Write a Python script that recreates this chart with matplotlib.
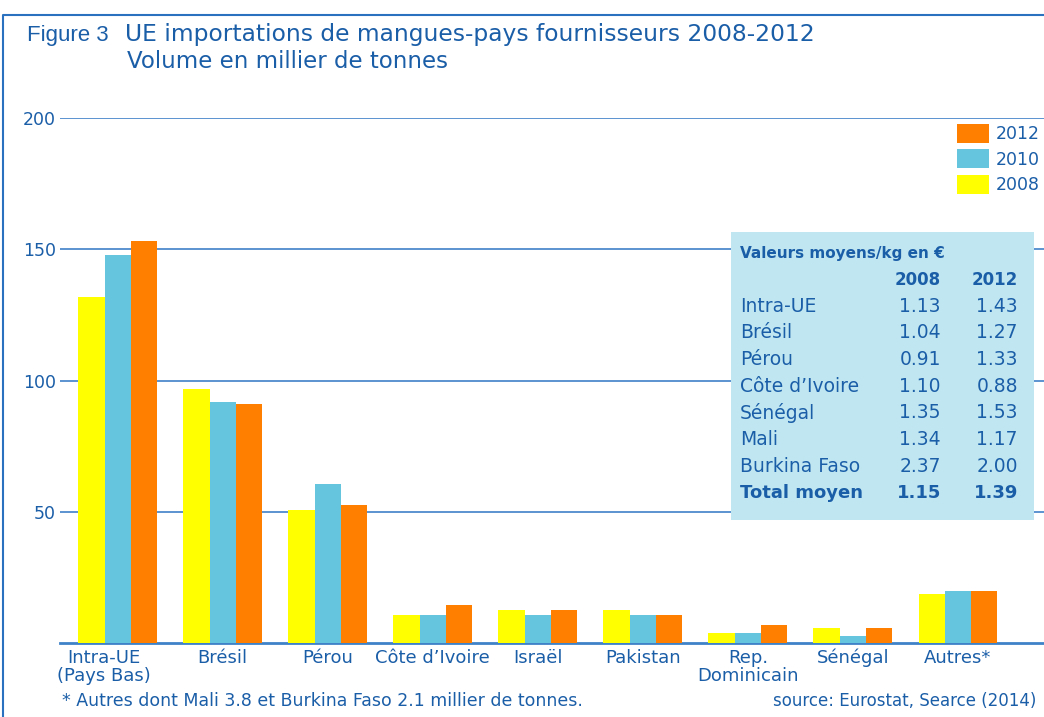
import matplotlib.pyplot as plt
import matplotlib.transforms as mtransforms
import numpy as np
from matplotlib.patches import Rectangle
from matplotlib.lines import Line2D

# data
pays = ['Intra-UE\n(Pays Bas)', 'Brésil', 'Pérou', 'Côte d\u2019Ivoire', 'Israël',
        'Pakistan', 'Rep.\nDominicain', 'Sénégal', 'Autres*']
vol_2008 = [132, 96.8, 50.6, 10.7, 12.7, 12.7, 3.8, 5.6, 18.8]
vol_2010 = [148, 91.8, 60.7, 10.7, 10.7, 10.7, 3.8, 2.8, 19.8]
vol_2012 = [153, 90.9, 52.6, 14.6, 12.7, 10.7, 6.7, 5.6, 19.8]

# table of mean values per kg
tab_pays = ['Intra-UE', 'Brésil', 'Pérou', 'Côte d\u2019Ivoire', 'Sénégal', 'Mali', 'Burkina Faso']
tab_2008 = ['1.13', '1.04', '0.91', '1.10', '1.35', '1.34', '2.37']
tab_2012 = ['1.43', '1.27', '1.33', '0.88', '1.53', '1.17', '2.00']
total_2008 = '1.15'
total_2012 = '1.39'

W, H = 1044, 717
blue = '#1b5ea8'
grid_blue = '#3f82c8'
c2008 = '#ffff00'
c2010 = '#66c5de'
c2012 = '#ff7f00'

fig = plt.figure(figsize=(W / 100, H / 100), dpi=100)
plt.rcParams['font.family'] = 'DejaVu Sans'


def fx(px):
    return px / W


def fy(py):
    return 1 - py / H


ax = fig.add_axes([fx(60), fy(643), 1 - fx(60), fy(118) - fy(643)])

x = np.arange(len(pays))
w = 0.25
ax.bar(x - w, vol_2008, w, color=c2008, label='2008', zorder=3)
ax.bar(x, vol_2010, w, color=c2010, label='2010', zorder=3)
ax.bar(x + w, vol_2012, w, color=c2012, label='2012', zorder=3)

ax.set_xlim(-0.55, 8.82)
ax.set_ylim(0, 200)
ax.set_yticks([50, 100, 150, 200])
ax.yaxis.grid(True, color=grid_blue, linewidth=1.2, zorder=0)
ax.set_xticks(x)
ax.set_xticklabels(pays, multialignment='center', linespacing=1.05)
ax.tick_params(axis='both', length=0, colors=blue, labelsize=12.5)
ax.tick_params(axis='x', pad=4, labelsize=13)
ax.tick_params(axis='y', pad=3)
for s in ['top', 'right', 'left']:
    ax.spines[s].set_visible(False)
ax.spines['bottom'].set_color(grid_blue)
ax.spines['bottom'].set_linewidth(2)

# first label sits a bit left of its group in the original
lab0 = ax.get_xticklabels()[0]
lab0.set_transform(lab0.get_transform() +
                   mtransforms.ScaledTranslation(-0.14, 0, fig.dpi_scale_trans))

# legend, 2012 on top
h, l = ax.get_legend_handles_labels()
ax.legend(h[::-1], l[::-1], loc='upper left', bbox_to_anchor=(fx(957), fy(124)),
          bbox_transform=fig.transFigure, frameon=False, fontsize=12.5,
          handlelength=1.85, handleheight=1.3, labelspacing=0.35, handletextpad=0.4,
          labelcolor=blue, borderaxespad=0, borderpad=0)

# table box
fig.add_artist(Rectangle((fx(731), fy(520)), fx(1034) - fx(731), fy(232) - fy(520),
                         transform=fig.transFigure, facecolor='#c0e7f1', edgecolor='none', zorder=5))
fig.text(fx(740), fy(254), 'Valeurs moyens/kg en \u20ac', color=blue, fontsize=11,
         fontweight='bold', va='center', zorder=6)
fig.text(fx(941), fy(280), '2008', color=blue, fontsize=12, fontweight='bold',
         ha='right', va='center', zorder=6)
fig.text(fx(1018), fy(280), '2012', color=blue, fontsize=12, fontweight='bold',
         ha='right', va='center', zorder=6)
for i, (p, a, b) in enumerate(zip(tab_pays, tab_2008, tab_2012)):
    yy = 306 + i * 26.7
    fig.text(fx(740), fy(yy), p, color=blue, fontsize=13.5, va='center', zorder=6)
    fig.text(fx(941), fy(yy), a, color=blue, fontsize=13.5, ha='right', va='center', zorder=6)
    fig.text(fx(1018), fy(yy), b, color=blue, fontsize=13.5, ha='right', va='center', zorder=6)
fig.text(fx(740), fy(493), 'Total moyen', color=blue, fontsize=13, fontweight='bold',
         va='center', zorder=6)
fig.text(fx(941), fy(493), total_2008, color=blue, fontsize=13, fontweight='bold',
         ha='right', va='center', zorder=6)
fig.text(fx(1018), fy(493), total_2012, color=blue, fontsize=13, fontweight='bold',
         ha='right', va='center', zorder=6)

# title
fig.text(fx(27), fy(35), 'Figure 3', color=blue, fontsize=16, va='center',
         family=['Liberation Sans', 'DejaVu Sans'])
fig.text(fx(125), fy(35), 'UE importations de mangues-pays fournisseurs 2008-2012',
         color=blue, fontsize=16.8, va='center')
fig.text(fx(127), fy(62), 'Volume en millier de tonnes', color=blue, fontsize=16.5, va='center')

# notes
fig.text(fx(62), fy(701), '* Autres dont Mali 3.8 et Burkina Faso 2.1 millier de tonnes.',
         color=blue, fontsize=12.5, va='center')
fig.text(fx(1036), fy(701), 'source: Eurostat, Searce (2014)', color=blue, fontsize=12,
         ha='right', va='center')

# frame lines
fig.add_artist(Line2D([fx(3), fx(3), 1], [0, fy(15), fy(15)], transform=fig.transFigure,
                      color='#2a72c0', linewidth=1.5))

fig.savefig('out.png', dpi=100)
